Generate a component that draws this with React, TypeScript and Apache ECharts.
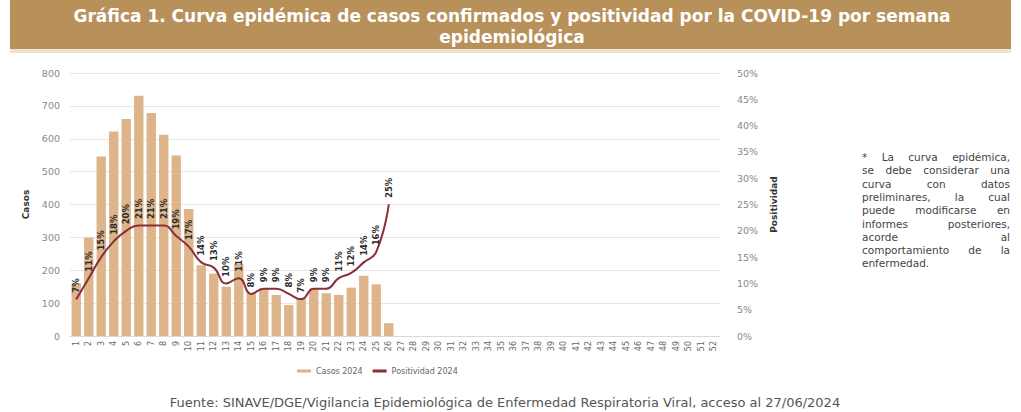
import React, { useEffect, useRef } from "react";
import * as echarts from "echarts";

const semanas = [
  "1", "2", "3", "4", "5", "6", "7", "8", "9", "10", "11", "12", "13",
  "14", "15", "16", "17", "18", "19", "20", "21", "22", "23", "24", "25", "26",
  "27", "28", "29", "30", "31", "32", "33", "34", "35", "36", "37", "38", "39",
  "40", "41", "42", "43", "44", "45", "46", "47", "48", "49", "50", "51", "52",
];

const casos2024 = [
  160, 300, 546, 622, 660, 731, 678, 612, 549, 386, 215, 190, 150,
  219, 130, 145, 125, 94, 115, 145, 130, 125, 147, 183, 157, 39,
];

const positividad2024 = [
  7, 11, 15, 18, 20, 21, 21, 21, 19, 17, 14, 13, 10,
  11, 8, 9, 9, 8, 7, 9, 9, 11, 12, 14, 16, 25,
];

const titleLines = [
  "Gráfica 1. Curva epidémica de casos confirmados y positividad por la COVID-19 por semana",
  "epidemiológica",
];

const noteLines = [
  "* La curva epidémica,",
  "se debe considerar una",
  "curva con datos",
  "preliminares, la cual",
  "puede modificarse en",
  "informes posteriores,",
  "acorde al",
  "comportamiento de la",
  "enfermedad.",
];

const sourceText =
  "Fuente: SINAVE/DGE/Vigilancia Epidemiológica de Enfermedad Respiratoria Viral, acceso al 27/06/2024";

const FONT = "DejaVu Sans";

function buildNote(): any[] {
  const x0 = 862;
  const x1 = 1010;
  const y0 = 157;
  const lh = 13.3;
  const fs = 10.5;
  const canvas = document.createElement("canvas");
  const ctx = canvas.getContext("2d") as CanvasRenderingContext2D;
  ctx.font = `${fs}px "${FONT}"`;
  const els: any[] = [];
  noteLines.forEach((line, li) => {
    const y = y0 + li * lh;
    const words = line.split(" ");
    const isLast = li === noteLines.length - 1;
    if (isLast || words.length === 1) {
      els.push({
        type: "text",
        x: x0,
        y,
        style: { text: line, fontSize: fs, fontFamily: FONT, fill: "#444", textAlign: "left", textVerticalAlign: "middle" },
      });
      return;
    }
    const widths = words.map((w) => ctx.measureText(w).width);
    const total = widths.reduce((a, b) => a + b, 0);
    const gap = (x1 - x0 - total) / (words.length - 1);
    let cx = x0;
    words.forEach((w, wi) => {
      els.push({
        type: "text",
        x: cx,
        y,
        style: { text: w, fontSize: fs, fontFamily: FONT, fill: "#444", textAlign: "left", textVerticalAlign: "middle" },
      });
      cx += widths[wi] + gap;
    });
  });
  return els;
}

export default function App() {
  const ref = useRef<HTMLDivElement>(null);

  useEffect(() => {
    if (!ref.current) return;
    const chart = echarts.init(ref.current, undefined, { renderer: "svg" });

    const option: any = {
      animation: false,
      backgroundColor: "#ffffff",
      textStyle: { fontFamily: FONT },
      grid: { left: 70, right: 301, top: 73, bottom: 76 },
      legend: {
        left: 292,
        top: 362,
        itemWidth: 14,
        itemHeight: 3,
        itemGap: 10,
        textStyle: { fontSize: 8, color: "#666", fontFamily: FONT },
        data: [
          { name: "Casos 2024", icon: "rect" },
          { name: "Positividad 2024", icon: "rect" },
        ],
      },
      xAxis: {
        type: "category",
        data: semanas,
        axisLine: { lineStyle: { color: "#d9d9d9" } },
        axisTick: { show: false },
        axisLabel: { rotate: 90, fontSize: 8, color: "#666", interval: 0, margin: 5 },
      },
      yAxis: [
        {
          type: "value",
          min: 0,
          max: 800,
          interval: 100,
          name: "Casos",
          nameLocation: "middle",
          nameGap: 40,
          nameTextStyle: { fontWeight: "bold", fontSize: 9, color: "#333" },
          axisLabel: { fontSize: 9.5, color: "#888", margin: 10 },
          axisLine: { show: false },
          axisTick: { show: false },
          splitLine: { lineStyle: { color: "#e6e6e6" } },
        },
        {
          type: "value",
          min: 0,
          max: 50,
          interval: 5,
          position: "right",
          name: "Positividad",
          nameLocation: "middle",
          nameGap: 47,
          nameTextStyle: { fontWeight: "bold", fontSize: 9, color: "#333" },
          axisLabel: { formatter: "{value}%", fontSize: 9.5, color: "#888", margin: 17 },
          axisLine: { show: false },
          axisTick: { show: false },
          splitLine: { show: false },
        },
      ],
      series: [
        {
          type: "bar",
          name: "Casos 2024",
          data: casos2024,
          barCategoryGap: "25%",
          itemStyle: { color: "#DEB48A" },
        },
        {
          type: "line",
          name: "Positividad 2024",
          yAxisIndex: 1,
          data: positividad2024,
          smooth: true,
          symbol: "circle",
          symbolSize: 1,
          itemStyle: { color: "#8A2E3B" },
          lineStyle: { color: "#8A2E3B", width: 2 },
          label: {
            show: true,
            position: "top",
            rotate: 90,
            align: "left",
            verticalAlign: "middle",
            distance: 6,
            formatter: "{c}%",
            fontSize: 8.5,
            fontWeight: "bold",
            color: "#2b2b2b",
          },
        },
      ],
      graphic: [
        { type: "rect", shape: { x: 10, y: 0, width: 1001, height: 49 }, style: { fill: "#B8905A" }, silent: true },
        { type: "rect", shape: { x: 10, y: 49, width: 1001, height: 4 }, style: { fill: "#EDE3D0" }, silent: true },
        ...titleLines.map((t, i) => ({
          type: "text",
          x: 512,
          y: 16 + i * 21,
          style: {
            text: t,
            fontSize: 17,
            fontWeight: "bold",
            fontFamily: FONT,
            fill: "#ffffff",
            textAlign: "center",
            textVerticalAlign: "middle",
          },
        })),
        ...buildNote(),
        {
          type: "text",
          x: 505,
          y: 402,
          style: {
            text: sourceText,
            fontSize: 13,
            fontFamily: FONT,
            fill: "#555",
            textAlign: "center",
            textVerticalAlign: "middle",
          },
        },
      ],
    };

    chart.setOption(option);
    return () => chart.dispose();
  }, []);

  return (
    <div
      ref={ref}
      style={{ position: "fixed", left: 0, top: 0, width: 1021, height: 412, background: "#fff" }}
    />
  );
}
